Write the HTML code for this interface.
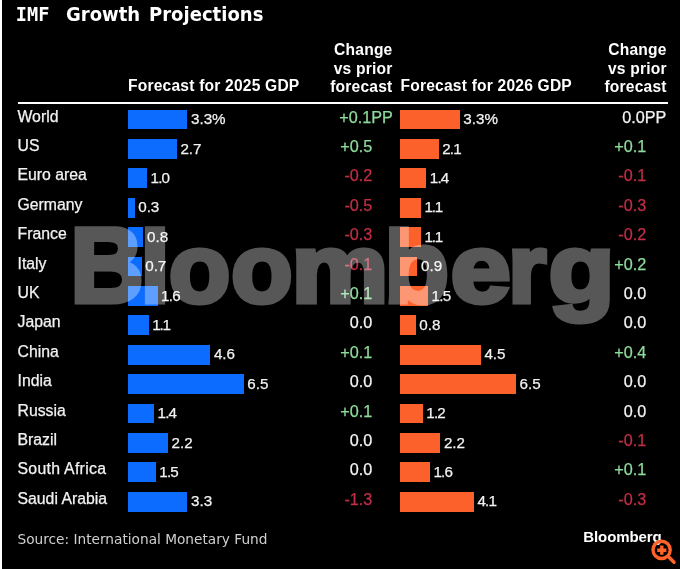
<!DOCTYPE html>
<html lang="en">
<head>
<meta charset="utf-8">
<title>IMF Growth Projections</title>
<style>
html,body{margin:0;padding:0;background:#000;}
body{width:680px;height:569px;position:relative;overflow:hidden;font-family:"Liberation Sans",Arial,Helvetica,sans-serif;color:#fff;}
.edge{position:absolute;left:0;top:0;width:2px;height:569px;background:#fff;}
.title{position:absolute;top:1.6px;height:26px;line-height:26px;font-family:"DejaVu Sans",Verdana,sans-serif;font-weight:bold;font-size:19.4px;transform-origin:0 50%;transform:scaleX(0.93);white-space:nowrap;color:#fff;}
.hd{position:absolute;font-weight:bold;font-size:15.6px;letter-spacing:0.2px;line-height:18.2px;white-space:nowrap;color:#fff;}
.hd.ra{text-align:right;}
.rule{position:absolute;left:17.5px;top:101.9px;width:650px;height:2.2px;background:#fff;}
.row{position:absolute;left:0;width:680px;height:19.4px;}
.row span,.row i{-webkit-text-stroke:0.25px currentColor;position:absolute;top:-2.8px;height:20px;line-height:20px;font-size:16.2px;white-space:nowrap;font-style:normal;}
.row span.lab{left:17.5px;color:#f2f2f2;font-size:15.8px;}
.row span.v{font-size:15.2px;top:-0.2px;color:#f2f2f2;}
.b{position:absolute;top:0.3px;height:19.8px;}
.b1{left:128px;background:#0b6cff;}
.b2{left:400.3px;background:#fc602b;}
.c1{right:307.7px;text-align:right;}
.c2{right:33.8px;text-align:right;}
.pp1{right:287.2px;}
.pp2{right:13.6px;}
.g{color:#8ddb9b;}
.r{color:#c22e45;}
.w{color:#f2f2f2;}
.src{position:absolute;left:17.5px;top:529px;height:20px;line-height:20px;font-family:"DejaVu Sans",Verdana,sans-serif;font-size:13.7px;color:#cfcfcf;white-space:nowrap;}
.logo{position:absolute;left:583.3px;top:526.8px;height:20px;line-height:20px;font-weight:bold;font-size:15px;letter-spacing:-0.1px;color:#fff;white-space:nowrap;}
.wm{position:absolute;left:0;top:0;width:680px;height:569px;opacity:0.34;pointer-events:none;}
</style>
</head>
<body>
<div class="edge"></div>
<div class="title" style="left:15.8px;transform:none;font-family:'DejaVu Sans Mono',monospace;font-size:18.6px">IMF</div>
<div class="title" style="left:66px">Growth</div>
<div class="title" style="left:149px">Projections</div>
<div class="hd" style="left:128px;top:77.2px">Forecast for 2025 GDP</div>
<div class="hd ra" style="right:287.5px;top:41.4px">Change<br>vs prior<br>forecast</div>
<div class="hd" style="left:400.5px;top:77.2px">Forecast for 2026 GDP</div>
<div class="hd ra" style="right:13.3px;top:41.4px">Change<br>vs prior<br>forecast</div>
<div class="rule"></div>
<div class="row" style="top:109.4px"><span class="lab">World</span><div class="b b1" style="width:59.4px"></div><span class="v" style="left:191.0px">3.3%</span><i class="pp1 g">+0.1PP</i><div class="b b2" style="width:59.4px"></div><span class="v" style="left:463.3px">3.3%</span><i class="pp2 w">0.0PP</i></div>
<div class="row" style="top:138.8px"><span class="lab">US</span><div class="b b1" style="width:48.8px"></div><span class="v" style="left:180.4px">2.7</span><i class="c1 g">+0.5</i><div class="b b2" style="width:38.3px"></div><span class="v" style="left:442.2px;letter-spacing:-0.8px">2.1</span><i class="c2 g">+0.1</i></div>
<div class="row" style="top:168.2px"><span class="lab">Euro area</span><div class="b b1" style="width:18.9px"></div><span class="v" style="left:150.5px;letter-spacing:-0.8px">1.0</span><i class="c1 r">-0.2</i><div class="b b2" style="width:25.9px"></div><span class="v" style="left:429.8px;letter-spacing:-0.8px">1.4</span><i class="c2 r">-0.1</i></div>
<div class="row" style="top:197.6px"><span class="lab">Germany</span><div class="b b1" style="width:6.6px"></div><span class="v" style="left:138.2px">0.3</span><i class="c1 r">-0.5</i><div class="b b2" style="width:20.7px"></div><span class="v" style="left:424.6px;letter-spacing:-1.2px">1.1</span><i class="c2 r">-0.3</i></div>
<div class="row" style="top:227.0px"><span class="lab">France</span><div class="b b1" style="width:15.4px"></div><span class="v" style="left:147.0px">0.8</span><i class="c1 r">-0.3</i><div class="b b2" style="width:20.7px"></div><span class="v" style="left:424.6px;letter-spacing:-1.2px">1.1</span><i class="c2 r">-0.2</i></div>
<div class="row" style="top:256.4px"><span class="lab">Italy</span><div class="b b1" style="width:13.6px"></div><span class="v" style="left:145.2px">0.7</span><i class="c1 r">-0.1</i><div class="b b2" style="width:17.1px"></div><span class="v" style="left:421.0px">0.9</span><i class="c2 g">+0.2</i></div>
<div class="row" style="top:285.8px"><span class="lab">UK</span><div class="b b1" style="width:29.5px"></div><span class="v" style="left:161.1px;letter-spacing:-0.8px">1.6</span><i class="c1 g">+0.1</i><div class="b b2" style="width:27.7px"></div><span class="v" style="left:431.6px;letter-spacing:-0.8px">1.5</span><i class="c2 w">0.0</i></div>
<div class="row" style="top:315.2px"><span class="lab">Japan</span><div class="b b1" style="width:20.7px"></div><span class="v" style="left:152.3px;letter-spacing:-1.2px">1.1</span><i class="c1 w">0.0</i><div class="b b2" style="width:15.4px"></div><span class="v" style="left:419.3px">0.8</span><i class="c2 w">0.0</i></div>
<div class="row" style="top:344.6px"><span class="lab">China</span><div class="b b1" style="width:82.3px"></div><span class="v" style="left:213.9px">4.6</span><i class="c1 g">+0.1</i><div class="b b2" style="width:80.5px"></div><span class="v" style="left:484.4px">4.5</span><i class="c2 g">+0.4</i></div>
<div class="row" style="top:374.0px"><span class="lab">India</span><div class="b b1" style="width:115.7px"></div><span class="v" style="left:247.3px">6.5</span><i class="c1 w">0.0</i><div class="b b2" style="width:115.7px"></div><span class="v" style="left:519.6px">6.5</span><i class="c2 w">0.0</i></div>
<div class="row" style="top:403.4px"><span class="lab">Russia</span><div class="b b1" style="width:25.9px"></div><span class="v" style="left:157.5px;letter-spacing:-0.8px">1.4</span><i class="c1 g">+0.1</i><div class="b b2" style="width:22.4px"></div><span class="v" style="left:426.3px;letter-spacing:-0.8px">1.2</span><i class="c2 w">0.0</i></div>
<div class="row" style="top:432.8px"><span class="lab">Brazil</span><div class="b b1" style="width:40.0px"></div><span class="v" style="left:171.6px">2.2</span><i class="c1 w">0.0</i><div class="b b2" style="width:40.0px"></div><span class="v" style="left:443.9px">2.2</span><i class="c2 r">-0.1</i></div>
<div class="row" style="top:462.2px"><span class="lab" style="letter-spacing:0.3px">South Africa</span><div class="b b1" style="width:27.7px"></div><span class="v" style="left:159.3px;letter-spacing:-0.8px">1.5</span><i class="c1 w">0.0</i><div class="b b2" style="width:29.5px"></div><span class="v" style="left:433.4px;letter-spacing:-0.8px">1.6</span><i class="c2 g">+0.1</i></div>
<div class="row" style="top:491.6px"><span class="lab">Saudi Arabia</span><div class="b b1" style="width:59.4px"></div><span class="v" style="left:191.0px">3.3</span><i class="c1 r">-1.3</i><div class="b b2" style="width:73.5px"></div><span class="v" style="left:477.4px;letter-spacing:-0.8px">4.1</span><i class="c2 r">-0.3</i></div>
<div class="src">Source: International Monetary Fund</div>
<div class="logo">Bloomberg</div>
<svg class="wm" viewBox="0 0 680 569">
<defs><clipPath id="wmclip"><rect x="0" y="226.2" width="680" height="200"/></clipPath></defs>
<text clip-path="url(#wmclip)" y="302.3" font-family="Liberation Sans, Arial, sans-serif" font-weight="bold" font-size="96.8" fill="#fff" stroke="#fff" stroke-width="5" stroke-linejoin="miter"><tspan x="70.20" font-size="106.8" textLength="73.49" lengthAdjust="spacingAndGlyphs">B</tspan><tspan x="139.96" font-size="102" textLength="30.10" lengthAdjust="spacingAndGlyphs">l</tspan><tspan x="169.12" font-size="96.8" textLength="61.21" lengthAdjust="spacingAndGlyphs">o</tspan><tspan x="231.32" font-size="96.8" textLength="61.21" lengthAdjust="spacingAndGlyphs">o</tspan><tspan x="291.52" font-size="96.8" textLength="96.81" lengthAdjust="spacingAndGlyphs">m</tspan><tspan x="384.31" font-size="102" textLength="64.81" lengthAdjust="spacingAndGlyphs">b</tspan><tspan x="450.73" font-size="96.8" textLength="59.85" lengthAdjust="spacingAndGlyphs">e</tspan><tspan x="508.30" font-size="96.8" textLength="37.88" lengthAdjust="spacingAndGlyphs">r</tspan><tspan x="548.83" font-size="96.8" textLength="65.74" lengthAdjust="spacingAndGlyphs">g</tspan></text>
</svg>
<svg style="position:absolute;left:645px;top:535px" width="35" height="34" viewBox="645 535 35 34">
<circle cx="661.6" cy="549.9" r="8.6" fill="none" stroke="#ff6328" stroke-width="3.4"/>
<line x1="668" y1="556.3" x2="674" y2="562.3" stroke="#ff6328" stroke-width="3.4" stroke-linecap="round"/>
<path d="M657.2 550.2h9.2M661.8 545.6v9.2" stroke="#ff6328" stroke-width="3.4" fill="none"/>
</svg>
</body>
</html>
